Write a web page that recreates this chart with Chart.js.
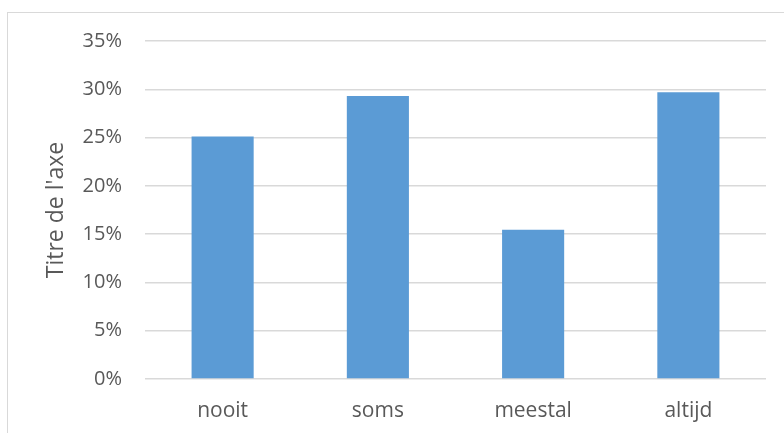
<!DOCTYPE html>
<html>
<head>
<meta charset="utf-8">
<script src="https://cdn.jsdelivr.net/npm/chart.js@4"></script>
<style>
  html, body { margin: 0; padding: 0; background: #fff; }
  #wrap { position: relative; width: 784px; height: 433px; overflow: hidden; }
  #frame { position: absolute; left: 7px; top: 12px; width: 800px; height: 500px; border: 1px solid #d9d9d9; }
  canvas { position: absolute; left: 0; top: 0; }
</style>
</head>
<body>
<div id="wrap">
  <div id="frame"></div>
  <canvas id="chart" width="784" height="433"></canvas>
</div>
<script>
const categories = ['nooit', 'soms', 'meestal', 'altijd'];
const values = [25.1, 29.3, 15.45, 29.7];
const yTicks = [0, 5, 10, 15, 20, 25, 30, 35];

const textColor = '#595959';
const gridColor = '#d9d9d9';
const fontFamily = "'Open Sans', sans-serif";

new Chart(document.getElementById('chart').getContext('2d'), {
  type: 'bar',
  data: {
    labels: categories,
    datasets: [{
      data: values,
      backgroundColor: '#5b9bd5',
      categoryPercentage: 1,
      barPercentage: 0.4
    }]
  },
  options: {
    responsive: false,
    animation: false,
    layout: { padding: { left: 8, top: 41, right: 18, bottom: 0 } },
    plugins: {
      legend: { display: false },
      tooltip: { enabled: false }
    },
    scales: {
      x: {
        grid: { display: false, drawTicks: false },
        border: { display: false },
        ticks: {
          color: textColor,
          font: { family: fontFamily, size: 21 },
          padding: 19
        },
        afterFit (scale) { scale.height = 54 }
      },
      y: {
        min: 0,
        max: 35,
        afterBuildTicks (scale) {
          scale.ticks = yTicks.map(v => ({ value: v }))
        },
        grid: { color: gridColor, lineWidth: 1.5, drawTicks: false },
        border: { display: false },
        ticks: {
          color: textColor,
          font: { family: fontFamily, size: 20 },
          padding: 23,
          callback: v => v + '%'
        },
        title: {
          display: true,
          text: "Titre de l'axe",
          color: textColor,
          font: { family: fontFamily, size: 23 },
          padding: { top: 35, bottom: 0 }
        },
        afterFit (scale) { scale.width = 137 }
      }
    }
  }
})
</script>
</body>
</html>
